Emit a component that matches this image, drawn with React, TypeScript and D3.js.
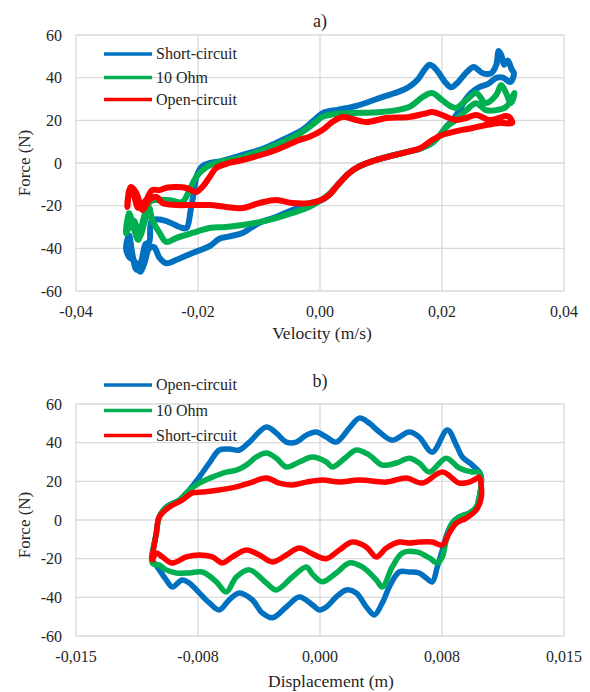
import React from 'react';
import * as d3 from 'd3';

// ---------- DATA ----------
const velTicks = [-0.04, -0.02, 0, 0.02, 0.04];
const dispTicks = [-0.015, -0.0075, 0, 0.0075, 0.015];
const forceTicks = [-60, -40, -20, 0, 20, 40, 60];

const velSeriesNames = ['Short-circuit', '10 Ohm', 'Open-circuit'];
const dispSeriesNames = ['Open-circuit', '10 Ohm', 'Short-circuit'];
const seriesColors = ['#0070C0', '#00B050', '#FF0000'];

// a) Force vs velocity loops [velocity (m/s), force (N)]
const velShort: [number, number][] = [
  [-0.0318, -40], [-0.0313, -34], [-0.0308, -42], [-0.0301, -50], [-0.0293, -46], [-0.0286, -38], [-0.028, -37],
  [-0.0276, -27], [-0.0263, -26.5], [-0.0245, -28], [-0.023, -30], [-0.0219, -30.5], [-0.0212, -22], [-0.0207, -14],
  [-0.0202, -6], [-0.0193, -1.5], [-0.018, 0], [-0.016, 1], [-0.0127, 3.8], [-0.01, 6], [-0.0072, 9.4], [-0.0045, 13],
  [-0.0029, 15.5], [-0.001, 20], [0.0005, 23.5], [0.003, 25], [0.006, 26.8], [0.0102, 30.9], [0.013, 33.5], [0.0145, 35.5],
  [0.016, 39], [0.0172, 44], [0.018, 46], [0.019, 44], [0.0205, 38], [0.0215, 35.5], [0.0225, 37.5], [0.024, 42.5],
  [0.0252, 45], [0.0266, 42.2], [0.028, 42], [0.0289, 46], [0.0293, 52.5], [0.0298, 50], [0.0302, 46], [0.0308, 48],
  [0.0314, 44], [0.0318, 42],
  [0.0312, 38], [0.03, 40], [0.029, 40], [0.0275, 37], [0.0261, 35.6], [0.0248, 33], [0.0238, 29.5], [0.0228, 24.5],
  [0.0217, 20], [0.0207, 16.9], [0.0195, 12.5], [0.0184, 9.5], [0.0165, 6.8], [0.014, 5], [0.0109, 2.8], [0.0085, 0.8],
  [0.0065, -1.5], [0.0048, -4.7], [0.003, -10], [0.0015, -15], [0.0002, -17.5], [-0.0018, -19], [-0.0045, -22],
  [-0.0072, -25.3], [-0.01, -28.1], [-0.0127, -32.8], [-0.015, -34.5], [-0.0165, -35.5], [-0.0181, -39], [-0.0209, -42.2],
  [-0.0236, -45.5], [-0.0252, -47], [-0.0263, -44.5], [-0.0272, -39.5], [-0.028, -40], [-0.0288, -47], [-0.0295, -51],
  [-0.0304, -46], [-0.0313, -44],
];
const velTen: [number, number][] = [
  [-0.0318, -33], [-0.0313, -23.5], [-0.0306, -30], [-0.0298, -36], [-0.0291, -28], [-0.0284, -21], [-0.0278, -18],
  [-0.0265, -17.3], [-0.0245, -17.5], [-0.0226, -18.3], [-0.0214, -12.7], [-0.0203, -6.6], [-0.0186, -1.9], [-0.017, 0],
  [-0.0127, 2.8], [-0.0072, 8.4], [-0.0035, 13.5], [-0.001, 18.5], [0.0004, 21.6], [0.002, 22.8], [0.0048, 23.4],
  [0.0102, 23.9], [0.0146, 26.3], [0.0168, 30.9], [0.0184, 32.8], [0.02, 29.5], [0.0215, 26.5], [0.0223, 25.8],
  [0.024, 29.5], [0.0256, 32.8], [0.0272, 28.1], [0.0289, 31.9], [0.0297, 36.6], [0.0305, 32.8], [0.0313, 28.1],
  [0.0319, 32.8],
  [0.0305, 26.3], [0.0289, 24.8], [0.0272, 24.8], [0.0256, 28], [0.024, 24.8], [0.0223, 20.2], [0.0207, 16.9],
  [0.0195, 12.5], [0.0184, 9.5], [0.0165, 6.8], [0.014, 5], [0.0109, 2.8], [0.0085, 0.8], [0.0065, -1.5], [0.0048, -4.7],
  [0.003, -10], [0.0015, -14.5], [0.0004, -17], [-0.0018, -20.6], [-0.0045, -23.4], [-0.0072, -25.8], [-0.01, -27.7],
  [-0.0127, -29.1], [-0.0154, -30], [-0.0181, -30.5], [-0.0209, -32.8], [-0.0236, -35.2], [-0.0252, -37], [-0.0263, -32.8],
  [-0.0275, -26.7], [-0.028, -21], [-0.0288, -28], [-0.0296, -34.7], [-0.0305, -27], [-0.0313, -30],
];
const velOpen: [number, number][] = [
  [-0.0316, -20.6], [-0.0313, -13], [-0.031, -11.3], [-0.0305, -15], [-0.0298, -21], [-0.0291, -19], [-0.0285, -17.3],
  [-0.0275, -12.7], [-0.0263, -12.7], [-0.025, -11.5], [-0.0236, -11.3], [-0.0219, -11.7], [-0.0203, -13.6],
  [-0.0193, -11.3], [-0.0181, -6.6], [-0.017, -2.3], [-0.0149, 0], [-0.0127, 1.4], [-0.0072, 6.1], [-0.0034, 10.8],
  [-0.0018, 12.2], [0.0004, 15.5], [0.002, 19.2], [0.0037, 21.6], [0.0055, 20.5], [0.0076, 19.2], [0.0109, 21.1],
  [0.0146, 21.6], [0.017, 23], [0.0184, 23.9], [0.02, 22.5], [0.0223, 20.2], [0.024, 21.1], [0.0256, 22.5],
  [0.0277, 20.2], [0.0294, 21.1], [0.0304, 22], [0.031, 21.6], [0.0315, 18.8],
  [0.0294, 18.8], [0.0272, 17.8], [0.025, 16.4], [0.0233, 15.5], [0.0212, 14.1], [0.02, 13.1], [0.0184, 10.8],
  [0.0165, 7], [0.014, 5], [0.0109, 2.8], [0.0085, 0.8], [0.0065, -1.5], [0.0048, -4.7], [0.003, -10], [0.0015, -15],
  [0.0002, -17.3], [-0.0018, -18.8], [-0.0045, -18.8], [-0.0072, -17.3], [-0.01, -18.8], [-0.0127, -21.1],
  [-0.0154, -20.6], [-0.0181, -19.7], [-0.0209, -19.7], [-0.0236, -19.7], [-0.0258, -18.8], [-0.0268, -15.9],
  [-0.028, -17.3], [-0.0291, -22], [-0.0301, -14.1], [-0.031, -11.3],
];

// b) Force vs displacement loops [displacement (m), force (N)]
const dispOpen: [number, number][] = [
  [-0.01031, -20.7], [-0.01006, -6.7], [-0.00988, 1.6], [-0.00945, 6.7], [-0.00865, 10.3], [-0.00804, 15.5],
  [-0.00742, 22.2], [-0.0068, 29.5], [-0.00619, 36.2], [-0.00558, 36.7], [-0.00496, 36.2], [-0.00434, 40.3],
  [-0.0033, 48.1], [-0.00269, 45], [-0.00207, 40.3], [-0.00146, 40.3], [-0.00084, 43.9], [-0.00023, 45.5],
  [0.00039, 42.9], [0.001, 40.3], [0.0018, 47.5], [0.00242, 52.7], [0.00303, 50.1], [0.00365, 45.5], [0.00444, 41.3],
  [0.00549, 45.5], [0.0061, 42.9], [0.0069, 35.1], [0.00783, 46.5], [0.00838, 38.8], [0.00875, 32.6], [0.00936, 28.4],
  [0.00979, 24.8], [0.00992, 22.2],
  [0.00979, 11.9], [0.00961, 6.7], [0.00918, 3.6], [0.00856, 1.6], [0.00813, -1.6], [0.00783, -6.7], [0.00752, -15.5],
  [0.00721, -24.3], [0.0069, -32], [0.00653, -30], [0.0061, -27.4], [0.00549, -26.9], [0.00487, -26.9],
  [0.00426, -34.6], [0.00383, -42.9], [0.00334, -49.1], [0.00285, -45], [0.00223, -37.7], [0.00162, -36.2],
  [0.001, -39.8], [0.00039, -45], [-0.00004, -46.5], [-0.00047, -43.9], [-0.00127, -39.8], [-0.00207, -45],
  [-0.00293, -50.6], [-0.00355, -48.1], [-0.00416, -41.3], [-0.00496, -37.7], [-0.00558, -41.3], [-0.00619, -46.5],
  [-0.0068, -42.9], [-0.00742, -37.7], [-0.00804, -32.6], [-0.00847, -31], [-0.00908, -34.6], [-0.00945, -31],
  [-0.00988, -25.8], [-0.01019, -22.2],
];
const dispTen: [number, number][] = [
  [-0.01031, -22.2], [-0.01006, -6.7], [-0.00988, 1.6], [-0.00945, 6.7], [-0.00865, 10.3], [-0.00804, 15.5],
  [-0.00742, 19.1], [-0.00662, 22.2], [-0.00576, 24.8], [-0.00514, 25.8], [-0.00453, 28.4], [-0.00391, 32.6],
  [-0.0033, 34.6], [-0.00269, 32], [-0.00207, 27.4], [-0.00127, 30], [-0.00047, 32.6], [0.00039, 30], [0.00076, 27.4],
  [0.00162, 32.6], [0.00223, 36.2], [0.00303, 33.6], [0.00383, 28.4], [0.00469, 29.5], [0.00549, 32], [0.0061, 29.5],
  [0.00672, 24.8], [0.00776, 32], [0.00856, 26.9], [0.00936, 24.8], [0.00979, 24.8], [0.00992, 20.7],
  [0.00979, 11.9], [0.00961, 6.7], [0.00918, 3.6], [0.00856, 1.6], [0.00813, -1.6], [0.00776, -10.3], [0.00752, -19.1],
  [0.00721, -22.2], [0.00672, -19.6], [0.00592, -16.5], [0.00506, -17.1], [0.00444, -24.3], [0.00383, -34.6],
  [0.00346, -31], [0.0026, -24.3], [0.0018, -22.2], [0.001, -27.4], [0.00014, -32], [-0.00047, -28], [-0.00084, -24.3],
  [-0.0017, -29.5], [-0.00269, -36.2], [-0.0033, -32.6], [-0.00434, -25.8], [-0.00514, -29.5], [-0.00576, -37.2],
  [-0.00637, -32], [-0.00723, -26.9], [-0.00804, -27.4], [-0.00883, -27.4], [-0.00945, -25.8], [-0.00988, -23.3],
];
const dispShort: [number, number][] = [
  [-0.01031, -20.7], [-0.01006, -6.7], [-0.00988, 1.6], [-0.00926, 6.7], [-0.00847, 10.3], [-0.00785, 14],
  [-0.00723, 14.5], [-0.00619, 15.5], [-0.00514, 17.1], [-0.00434, 19.1], [-0.0033, 21.7], [-0.0025, 19.1],
  [-0.0017, 18.1], [-0.00084, 19.6], [0.00014, 20.7], [0.00119, 19.6], [0.00242, 20.7], [0.00408, 19.6],
  [0.0053, 21.7], [0.00629, 19.1], [0.00752, 24.8], [0.00856, 19.1], [0.00918, 19.6], [0.00967, 21.7], [0.00979, 22.2],
  [0.00992, 11.9], [0.00961, 5.2], [0.00899, 1], [0.00838, -1.6], [0.00795, -6.7], [0.00752, -12.9], [0.0069, -11.4],
  [0.0061, -11.4], [0.00549, -11.9], [0.00487, -11.4], [0.00408, -14.5], [0.00346, -19.1], [0.00285, -14],
  [0.00199, -11.4], [0.00119, -15.5], [0.00039, -20], [-0.00047, -17.5], [-0.00127, -14.5], [-0.00207, -18.1],
  [-0.00293, -21.7], [-0.00373, -18.1], [-0.00453, -15.5], [-0.00539, -19.1], [-0.00601, -22.2], [-0.00662, -19.1],
  [-0.00742, -18.1], [-0.00822, -19.1], [-0.00908, -22.2], [-0.00969, -19.1], [-0.01006, -17.1],
];

const velSeries = [velShort, velTen, velOpen];
const dispSeries = [dispOpen, dispTen, dispShort];

// ---------- HELPERS ----------
const FONT = '"Liberation Serif", "Times New Roman", serif';
const TEXT = '#262626';
const GRID = '#d9d9d9';

function fmtComma(v: number, digits: number) {
  const p = Math.pow(10, digits);
  const r = Math.round(Math.abs(v) * p + 1e-6) / p;
  const s = r.toFixed(digits).replace('.', ',');
  return (v < 0 && r !== 0 ? '-' : '') + s;
}

type PanelProps = {
  top: number;
  bottom: number;
  xDomain: [number, number];
  xTicks: number[];
  xDigits: number;
  series: [number, number][][];
  names: string[];
  title: string;
  titleY: number;
  xLabel: string;
  xLabelX: number;
  xLabelY: number;
  yLabelY: number;
  legendY: number[];
  strokeW: number;
};

function Panel(p: PanelProps) {
  const left = 76, right = 564;
  const x = d3.scaleLinear().domain(p.xDomain).range([left, right]);
  const y = d3.scaleLinear().domain([-60, 60]).range([p.bottom, p.top]);
  const line = d3
    .line<[number, number]>()
    .x((d) => x(d[0]))
    .y((d) => y(d[1]))
    .curve(d3.curveCatmullRomClosed.alpha(0.5));
  return (
    <g>
      {p.xTicks.map((t, i) => (
        <line key={'gx' + i} x1={x(t)} x2={x(t)} y1={p.top} y2={p.bottom} stroke={GRID} strokeWidth={1.3} />
      ))}
      {forceTicks.map((t, i) => (
        <line key={'gy' + i} x1={left} x2={right} y1={y(t)} y2={y(t)} stroke={GRID} strokeWidth={1.3} />
      ))}
      {p.series.map((s, i) => (
        <path
          key={'s' + i}
          d={line(s) || ''}
          fill="none"
          stroke={seriesColors[i]}
          strokeWidth={p.strokeW}
          strokeLinejoin="round"
          strokeLinecap="round"
        />
      ))}
      {forceTicks.map((t, i) => (
        <text key={'ty' + i} x={62} y={y(t)} dy="0.35em" textAnchor="end" fontSize={16} fill={TEXT} fontFamily={FONT}>
          {String(t)}
        </text>
      ))}
      {p.xTicks.map((t, i) => (
        <text key={'tx' + i} x={x(t)} y={p.bottom + 26} textAnchor="middle" fontSize={16} fill={TEXT} fontFamily={FONT}>
          {fmtComma(t, p.xDigits)}
        </text>
      ))}
      <text x={p.xLabelX} y={p.xLabelY} textAnchor="middle" fontSize={17.5} fill={TEXT} fontFamily={FONT}>
        {p.xLabel}
      </text>
      <text
        transform={`translate(30,${p.yLabelY}) rotate(-90)`}
        textAnchor="middle"
        fontSize={17}
        fill={TEXT}
        fontFamily={FONT}
      >
        Force (N)
      </text>
      <text x={320} y={p.titleY} textAnchor="middle" fontSize={18} fill={TEXT} fontFamily={FONT}>
        {p.title}
      </text>
      {p.names.map((n, i) => (
        <g key={'lg' + i}>
          <line x1={104} x2={152} y1={p.legendY[i]} y2={p.legendY[i]} stroke={seriesColors[i]} strokeWidth={3.4} />
          <text x={156} y={p.legendY[i]} dy="0.33em" fontSize={16} fill={TEXT} fontFamily={FONT}>
            {n}
          </text>
        </g>
      ))}
    </g>
  );
}

export default function App() {
  return (
    <div style={{ position: 'absolute', left: 0, top: 0 }}>
      <svg width={590} height={692} style={{ display: 'block', background: '#fff' }}>
        <Panel
          top={35}
          bottom={291}
          xDomain={[-0.04, 0.04]}
          xTicks={velTicks}
          xDigits={2}
          series={velSeries}
          names={velSeriesNames}
          title="a)"
          titleY={27}
          xLabel="Velocity (m/s)"
          xLabelX={322}
          xLabelY={339}
          yLabelY={163}
          legendY={[54, 77.5, 99.5]}
          strokeW={6}
        />
        <Panel
          top={404}
          bottom={636}
          xDomain={[-0.015, 0.015]}
          xTicks={dispTicks}
          xDigits={3}
          series={dispSeries}
          names={dispSeriesNames}
          title="b)"
          titleY={387}
          xLabel="Displacement (m)"
          xLabelX={331}
          xLabelY={687}
          yLabelY={525}
          legendY={[385, 410.5, 435.5]}
          strokeW={5.5}
        />
      </svg>
    </div>
  );
}
